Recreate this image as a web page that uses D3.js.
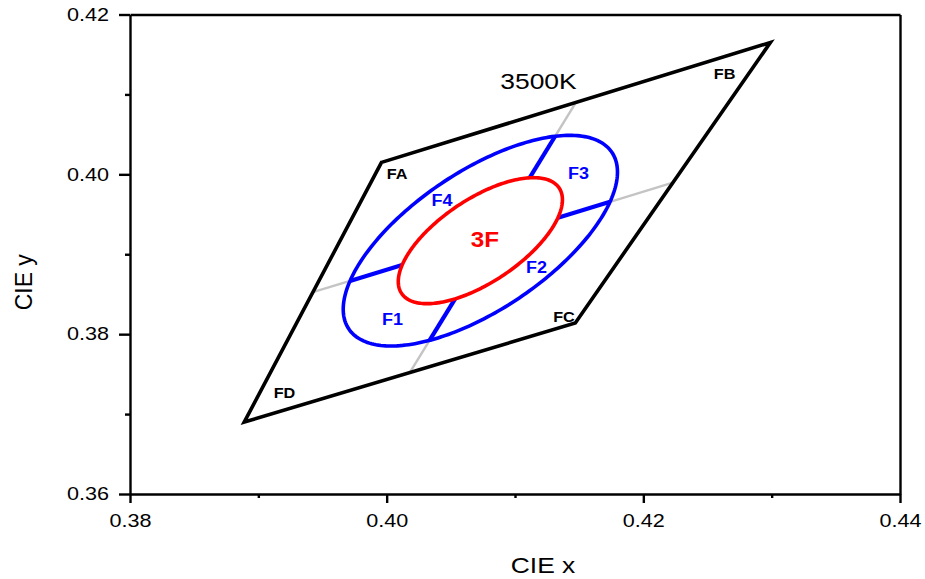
<!DOCTYPE html>
<html>
<head>
<meta charset="utf-8">
<script src="https://cdn.jsdelivr.net/npm/d3@7"></script>
<style>
  body { margin: 0; background: #fff; }
  svg { display: block; }
  text { font-family: "Liberation Sans", Arial, Helvetica, sans-serif; }
</style>
</head>
<body>
<svg id="chart" width="925" height="579"></svg>
<script>
// ANSI C78.377 3500K quadrangle corners (CIE 1931 x, y)
const cornerNames = ["FA", "FB", "FC", "FD"];
const cornerX = [0.3996, 0.4299, 0.4147, 0.3889];
const cornerY = [0.4015, 0.4165, 0.3814, 0.3690];

// Ellipses around the nominal 3500K point
const centerX = 0.4073;
const centerY = 0.3917;
const ellipseNames = ["outer", "3F"];
const ellipseA = [0.0155, 0.00927];
const ellipseB = [0.0069, 0.00414];
const ellipseThetaDeg = [54, 54];

// Label anchor points (data coordinates)
const cornerLabelX = [0.40081, 0.42633, 0.41382, 0.39204];
const cornerLabelY = [0.39942, 0.41193, 0.38152, 0.37201];
const zoneNames = ["F1", "F2", "F3", "F4"];
const zoneLabelX = [0.40045, 0.41168, 0.41495, 0.40431];
const zoneLabelY = [0.38115, 0.38765, 0.39942, 0.39604];
const innerLabel = { text: "3F", x: 0.40766, y: 0.39091 };
const cctLabel = { text: "3500K", x: 0.41183, y: 0.41068 };

// Axis ticks
const xMajor = [0.38, 0.40, 0.42, 0.44];
const xMinor = [0.39, 0.41, 0.43];
const yMajor = [0.36, 0.38, 0.40, 0.42];
const yMinor = [0.37, 0.39, 0.41];

const svg = d3.select("#chart");
const plot = { left: 130, right: 900, top: 14.5, bottom: 494 };

const x = d3.scaleLinear().domain([0.38, 0.44]).range([plot.left, plot.right]);
const y = d3.scaleLinear().domain([0.36, 0.42]).range([plot.bottom, plot.top]);

const fmt = d3.format(".2f");
const HSCALE = 1.2;

// ---- axes ----
const gx = svg.append("g").attr("transform", `translate(0,${plot.bottom})`)
  .call(d3.axisBottom(x).tickValues(xMajor).tickFormat(fmt).tickSize(9).tickPadding(11).tickSizeOuter(0));
svg.append("g").attr("transform", `translate(0,${plot.bottom})`)
  .call(d3.axisBottom(x).tickValues(xMinor).tickFormat("").tickSize(4).tickSizeOuter(0))
  .select(".domain").remove();
const gy = svg.append("g").attr("transform", `translate(${plot.left},0)`)
  .call(d3.axisLeft(y).tickValues(yMajor).tickFormat(fmt).tickSize(11).tickPadding(10).tickSizeOuter(0));
svg.append("g").attr("transform", `translate(${plot.left},0)`)
  .call(d3.axisLeft(y).tickValues(yMinor).tickFormat("").tickSize(5).tickSizeOuter(0))
  .select(".domain").remove();
svg.append("g").attr("transform", `translate(0,${plot.top})`)
  .call(d3.axisTop(x).tickValues([]).tickSizeOuter(0));
svg.append("g").attr("transform", `translate(${plot.right},0)`)
  .call(d3.axisRight(y).tickValues([]).tickSizeOuter(0));

svg.selectAll(".domain, .tick line").attr("stroke", "#000").attr("stroke-width", 2.4);
gx.selectAll(".tick text").attr("font-size", 18).attr("fill", "#000")
  .attr("transform", `scale(${HSCALE},1)`);
gy.selectAll(".tick text").attr("font-size", 18).attr("fill", "#000")
  .attr("x", 0).attr("transform", `translate(-21,0) scale(${HSCALE},1)`);

svg.append("text")
  .attr("transform", `translate(${(plot.left + plot.right) / 2 + 28},573) scale(${HSCALE},1)`)
  .attr("text-anchor", "middle").attr("font-size", 22).text("CIE x");
svg.append("text")
  .attr("transform", `translate(32,${(plot.top + plot.bottom) / 2 + 28}) rotate(-90)`)
  .attr("text-anchor", "middle").attr("font-size", 23).text("CIE y");

// ---- geometry helpers ----
const corners = cornerNames.map((n, i) => ({ name: n, x: cornerX[i], y: cornerY[i] }));
const ellipses = ellipseNames.map((n, i) => ({
  name: n, cx: centerX, cy: centerY, a: ellipseA[i], b: ellipseB[i],
  th: ellipseThetaDeg[i] * Math.PI / 180
}));

function ellipsePoints(e, n = 240) {
  const pts = [];
  for (let k = 0; k <= n; k++) {
    const t = 2 * Math.PI * k / n;
    const u = e.a * Math.cos(t), v = e.b * Math.sin(t);
    pts.push([e.cx + u * Math.cos(e.th) - v * Math.sin(e.th),
              e.cy + u * Math.sin(e.th) + v * Math.cos(e.th)]);
  }
  return pts;
}

// parameters t where segment P0->P1 crosses ellipse e
function crossings(p0, p1, e) {
  const c = Math.cos(e.th), s = Math.sin(e.th);
  const px = p0[0] - e.cx, py = p0[1] - e.cy;
  const dx = p1[0] - p0[0], dy = p1[1] - p0[1];
  const pu = px * c + py * s, pv = -px * s + py * c;
  const du = dx * c + dy * s, dv = -dx * s + dy * c;
  const A = (du / e.a) ** 2 + (dv / e.b) ** 2;
  const B = 2 * (pu * du / e.a ** 2 + pv * dv / e.b ** 2);
  const C = (pu / e.a) ** 2 + (pv / e.b) ** 2 - 1;
  const r = Math.sqrt(B * B - 4 * A * C);
  return [(-B - r) / (2 * A), (-B + r) / (2 * A)];
}
const lerp = (p0, p1, t) => [p0[0] + (p1[0] - p0[0]) * t, p0[1] + (p1[1] - p0[1]) * t];
const mid = (i, j) => [(corners[i].x + corners[j].x) / 2, (corners[i].y + corners[j].y) / 2];

const line = d3.line().x(d => x(d[0])).y(d => y(d[1]));

// dividing lines between opposite edge midpoints (FD-FC to FA-FB, FA-FD to FB-FC)
const dividers = [[mid(3, 2), mid(0, 1)], [mid(0, 3), mid(1, 2)]];
const outer = ellipses[0], inner = ellipses[1];
const greySegs = [], blueSegs = [];
dividers.forEach(([p0, p1]) => {
  const [o1, o2] = crossings(p0, p1, outer);
  const [i1, i2] = crossings(p0, p1, inner);
  greySegs.push([p0, lerp(p0, p1, o1)], [lerp(p0, p1, o2), p1]);
  blueSegs.push([lerp(p0, p1, o1), lerp(p0, p1, i1)], [lerp(p0, p1, i2), lerp(p0, p1, o2)]);
});

svg.append("g").selectAll("path").data(greySegs).join("path")
  .attr("d", line).attr("fill", "none").attr("stroke", "#c4c4c4").attr("stroke-width", 2.4);

// quadrangle
svg.append("path")
  .attr("d", line(corners.map(c => [c.x, c.y])) + "Z")
  .attr("fill", "none").attr("stroke", "#000").attr("stroke-width", 3.6)
  .attr("stroke-linejoin", "miter");

svg.append("g").selectAll("path").data(blueSegs).join("path")
  .attr("d", line).attr("fill", "none").attr("stroke", "#0000ff").attr("stroke-width", 4.2);

svg.append("path").attr("d", line(ellipsePoints(outer)))
  .attr("fill", "none").attr("stroke", "#0000ff").attr("stroke-width", 3.6);
svg.append("path").attr("d", line(ellipsePoints(inner)))
  .attr("fill", "none").attr("stroke", "#ff0000").attr("stroke-width", 3.6);

// ---- labels ----
function label(txt, dx, dy, size, color, bold, sx) {
  svg.append("text")
    .attr("transform", `translate(${x(dx)},${y(dy)}) scale(${sx},1)`)
    .attr("text-anchor", "middle").attr("font-size", size)
    .attr("font-weight", bold ? "bold" : "normal").attr("fill", color).text(txt);
}
cornerNames.forEach((n, i) => label(n, cornerLabelX[i], cornerLabelY[i], 15, "#000", true, 1.08));
zoneNames.forEach((n, i) => label(n, zoneLabelX[i], zoneLabelY[i], 17, "#0000ff", true, 1.06));
label(innerLabel.text, innerLabel.x, innerLabel.y, 22, "#ff0000", true, 1.1);
label(cctLabel.text, cctLabel.x, cctLabel.y, 22, "#000", false, HSCALE);
</script>
</body>
</html>
